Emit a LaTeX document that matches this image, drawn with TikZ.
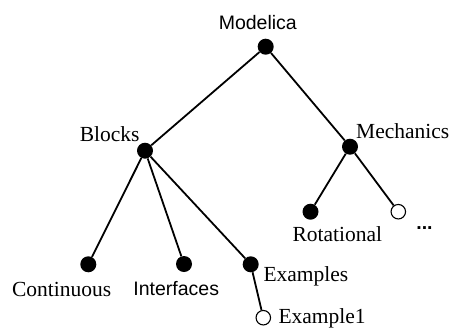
\documentclass[tikz,border=0pt]{standalone}
\usepackage{fontspec}
\setmainfont{Liberation Serif}
\setsansfont{Liberation Sans}
\begin{document}
\begin{tikzpicture}[x=1pt,y=-1pt,
  full/.style={circle,fill=black,minimum size=16pt,inner sep=0pt},
  open/.style={circle,draw=black,fill=white,line width=1.1pt,minimum size=14.5pt,inner sep=0pt},
  edge/.style={line width=1.8pt},
  serif/.style={inner sep=0pt,font=\fontsize{21.5}{24}\selectfont\rmfamily},
  sans/.style={inner sep=0pt,font=\fontsize{19.5}{22}\selectfont\sffamily}]
\useasboundingbox (0,0) rectangle (452,327);
% dots
\node[full] (mod) at (265.7,46.7) {};
\node[full] (blk) at (145,150.7) {};
\node[full] (mech) at (350,146.7) {};
\node[full] (rot) at (310.5,211.7) {};
\node[full] (cont) at (88.3,264.3) {};
\node[full] (intf) at (184,264) {};
\node[full] (ex) at (250.7,264.3) {};
\node[open] (more) at (398.3,211.7) {};
\node[open] (ex1) at (263.3,317.7) {};
% edges
\draw[edge] (mod) -- (blk);
\draw[edge] (mod) -- (mech);
\draw[edge] (blk) -- (cont);
\draw[edge] (blk) -- (intf);
\draw[edge] (blk) -- (ex);
\draw[edge] (mech) -- (rot);
\draw[edge] (mech) -- (more);
\draw[edge] (ex) -- (ex1);
% labels
\node[sans,anchor=base] (lmod) at (257.8,29.3) {Modelica};
\node[serif,anchor=base] (lblk) at (109.7,141.7) {Blocks};
\node[serif,anchor=base west] (lmech) at (356,138.3) {Mechanics};
\node[serif,anchor=base] (lrot) at (337.3,241.7) {Rotational};
\node[sans,anchor=base,font=\fontsize{19.5}{22}\selectfont\sffamily\bfseries] (lmore) at (424.5,229) {...};
\node[serif,anchor=base] (lcont) at (61.7,296.7) {Continuous};
\node[sans,anchor=base] (lintf) at (176.2,295) {Interfaces};
\node[serif,anchor=base west] (lex) at (263.3,281) {Examples};
\node[serif,anchor=base west] (lex1) at (278.3,323.3) {Example1};
\end{tikzpicture}
\end{document}
